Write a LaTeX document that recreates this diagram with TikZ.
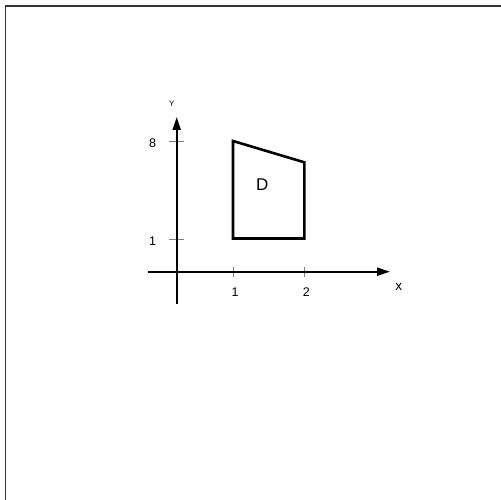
\documentclass[tikz,border=0pt]{standalone}
\usepackage{fontspec}
\setmainfont{Liberation Sans}
\usetikzlibrary{arrows.meta}

\begin{document}
\begin{tikzpicture}[x=1pt, y=-1pt, line join=miter, >={Triangle[length=13pt,width=8pt]}, every node/.style={font=\fontsize{12.5}{14}\selectfont, inner sep=0pt}]
  \useasboundingbox (0,0) rectangle (501,500);

  % Page frame, open at the right and at the bottom.
  \draw[line width=1.6pt, black!80] (5.5,500) -- (5.5,6) -- (501,6);

  % Axes reference points.
  \coordinate (O) at (176.7,271.7);
  \coordinate (Xstart) at (148,271.7);
  \coordinate (Xend) at (390,271.7);
  \coordinate (Ystart) at (176.7,304);
  \coordinate (Yend) at (176.7,117);

  % Corners of the region D.
  \coordinate (A) at (233,238.5);
  \coordinate (B) at (304.3,238.5);
  \coordinate (C) at (304.3,162.3);
  \coordinate (Dtop) at (233,141);

  % Tick marks and their labels.
  \foreach \x/\lab in {233/1, 304.3/2} {
    \draw[line width=0.6pt, gray] (\x,267) -- (\x,277);
    \node (xl\lab) at (\x+2,292) {\lab};
  }
  \foreach \y/\lab in {239/1, 141/8} {
    \draw[line width=0.6pt, gray] (169,\y) -- (184,\y);
    \node (yl\lab) at (152.5,\y+2.5) {\lab};
  }

  % Axes.
  \draw[->, line width=2.2pt] (Xstart) -- (Xend);
  \draw[->, line width=2.2pt] (Ystart) -- (Yend);
  \node[font=\fontsize{13.5}{15}\selectfont] (xname) at (398.8,286.7) {x};
  \node[font=\fontsize{8}{9}\selectfont] (yname) at (171.7,104) {Y};

  % Region D.
  \draw[line width=2.6pt] (A) -- (B) -- (C) -- (Dtop) -- cycle;
  \node[font=\fontsize{17}{19}\selectfont] (D) at (262.3,185) {D};

\end{tikzpicture}
\end{document}
